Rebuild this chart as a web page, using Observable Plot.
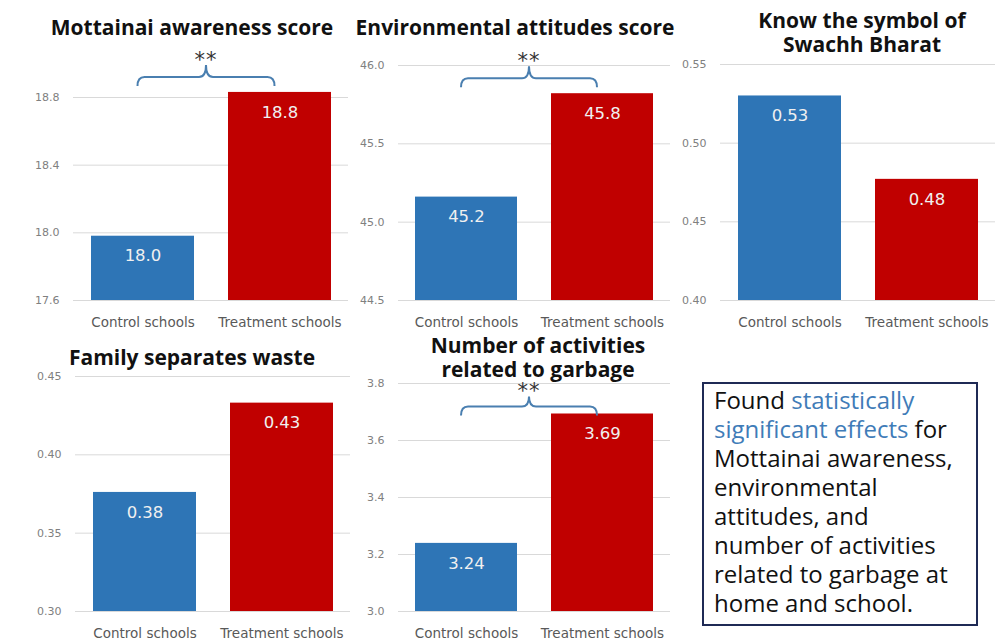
<!DOCTYPE html>
<html>
<head>
<meta charset="utf-8">
<script src="https://cdn.jsdelivr.net/npm/d3@7"></script>
<script src="https://cdn.jsdelivr.net/npm/@observablehq/plot@0.6"></script>
<style>
  html, body { margin: 0; padding: 0; background: #ffffff; }
  #root { position: relative; width: 995px; height: 642px; overflow: hidden; background: #ffffff; }
  .panel { position: absolute; }
  .title { position: absolute; text-align: center; font-family: "Open Sans", sans-serif; font-weight: 700; font-size: 21px; line-height: 24px; color: #111; white-space: nowrap; }
  .note { position: absolute; left: 702px; top: 382px; width: 276px; height: 244px; box-sizing: border-box; border: 2px solid #1f2a55; padding: 1px 0 0 10px; font-family: "Open Sans", sans-serif; font-size: 24px; line-height: 29px; color: #111; white-space: nowrap; }
  .note .hl { color: #3f7cb8; }
</style>
</head>
<body>
<div id="root"></div>
<script>
// ---- data ----
const groups = ["Control schools", "Treatment schools"];

const titles = [
  "Mottainai awareness score",
  "Environmental attitudes score",
  "Know the symbol of<br>Swachh Bharat",
  "Family separates waste",
  "Number of activities<br>related to garbage"
];

const mottainaiValues = [17.98, 18.83];
const environmentalValues = [45.16, 45.82];
const swachhValues = [0.530, 0.477];
const familyValues = [0.376, 0.433];
const activitiesValues = [3.239, 3.693];

const mottainaiTicks = [17.6, 18.0, 18.4, 18.8];
const environmentalTicks = [44.5, 45.0, 45.5, 46.0];
const swachhTicks = [0.40, 0.45, 0.50, 0.55];
const familyTicks = [0.30, 0.35, 0.40, 0.45];
const activitiesTicks = [3.0, 3.2, 3.4, 3.6, 3.8];

const significant = [true, true, false, false, true];
const significanceLabel = "**";

const noteLines = [
  'Found <span class="hl">statistically</span>',
  '<span class="hl">significant effects</span> for',
  'Mottainai awareness,',
  'environmental',
  'attitudes, and',
  'number of activities',
  'related to garbage at',
  'home and school.'
];

const colors = ["#2e75b6", "#c00000"];

// ---- layout ----
const root = document.getElementById("root");

function brace(x1, x2, yb, cusp) {
  const xm = (x1 + x2) / 2, yh = yb - 9, yc = yh - cusp, r = 7;
  return `M${x1},${yb} Q${x1},${yh} ${x1 + r},${yh} L${xm - r},${yh} Q${xm},${yh} ${xm},${yc} Q${xm},${yh} ${xm + r},${yh} L${x2 - r},${yh} Q${x2},${yh} ${x2},${yb}`;
}

function panel(cfg) {
  const data = groups.map((g, i) => ({group: g, value: cfg.values[i], base: cfg.ticks[0]}));
  const lo = cfg.ticks[0], hi = cfg.ticks[cfg.ticks.length - 1];
  const fmt = d3.format(cfg.fmt);
  const tickFmt = d3.format(cfg.tickFmt);
  const marks = [
    Plot.gridY(cfg.ticks, {stroke: "#d9d9d9", strokeOpacity: 1, strokeWidth: 1}),
    Plot.axisY(cfg.ticks, {tickSize: 0, tickPadding: 14, tickFormat: tickFmt, fontSize: 11, color: "#808080", label: null}),
    Plot.axisX({tickSize: 0, tickPadding: 17, fontSize: 13.5, color: "#595959", label: null}),
    Plot.barY(data, {x: "group", y1: "base", y2: "value", fill: "group"}),
    Plot.text(data, {x: "group", y: "value", text: d => fmt(d.value), dy: 20, fill: "#f0f0f0", fontSize: 16.5})
  ];
  if (cfg.sig) {
    marks.push((index, scales) => {
      const g = d3.create("svg:g");
      const bw = scales.x.bandwidth ? scales.x.bandwidth() / 2 : 0;
      const x1 = scales.x(groups[0]) + bw - 5;
      const x2 = scales.x(groups[1]) + bw - 5;
      const yb = scales.y(d3.max(cfg.values)) + cfg.braceOffset;
      g.append("path").attr("d", brace(x1, x2, yb, cfg.cusp)).attr("fill", "none")
        .attr("stroke", "#4a7fb0").attr("stroke-width", 2);
      g.append("text").attr("x", (x1 + x2) / 2).attr("y", yb - 9 - cfg.cusp + 2)
        .attr("text-anchor", "middle").attr("font-size", 21).attr("fill", "#333")
        .attr("letter-spacing", 1)
        .attr("font-family", "DejaVu Sans, sans-serif").text(significanceLabel);
      return g.node();
    });
  }
  const chart = Plot.plot({
    width: cfg.width,
    height: cfg.height,
    marginTop: cfg.mt,
    marginBottom: cfg.mb,
    marginLeft: cfg.ml,
    marginRight: cfg.mr,
    style: {fontFamily: "DejaVu Sans, sans-serif", background: "transparent", overflow: "visible"},
    x: {domain: groups, paddingInner: 0.25, paddingOuter: 0.125, axis: null},
    y: {domain: [lo, hi], axis: null},
    color: {domain: groups, range: colors},
    marks
  });
  const wrap = document.createElement("div");
  wrap.className = "panel";
  wrap.style.left = cfg.left + "px";
  wrap.style.top = cfg.top + "px";
  wrap.appendChild(chart);
  root.appendChild(wrap);

  const t = document.createElement("div");
  t.className = "title";
  t.innerHTML = cfg.title;
  t.style.left = (cfg.titleX - 200) + "px";
  t.style.width = "400px";
  t.style.top = cfg.titleY + "px";
  root.appendChild(t);
}

panel({left: 0, top: 0, width: 350, height: 340, mt: 97, mb: 40, ml: 73, mr: 2,
  values: mottainaiValues, ticks: mottainaiTicks, fmt: ".1f", tickFmt: ".1f",
  sig: significant[0], braceOffset: -6, cusp: 12, title: titles[0], titleX: 192, titleY: 15});
panel({left: 340, top: 0, width: 332, height: 340, mt: 65, mb: 40, ml: 58, mr: 2,
  values: environmentalValues, ticks: environmentalTicks, fmt: ".1f", tickFmt: ".1f",
  sig: significant[1], braceOffset: -6, cusp: 12, title: titles[1], titleX: 515, titleY: 15});
panel({left: 665, top: 0, width: 330, height: 340, mt: 64, mb: 40, ml: 55, mr: 0,
  values: swachhValues, ticks: swachhTicks, fmt: ".2f", tickFmt: ".2f",
  sig: significant[2], braceOffset: -6, cusp: 12, title: titles[2], titleX: 862, titleY: 8});
panel({left: 0, top: 340, width: 352, height: 302, mt: 36, mb: 31, ml: 75, mr: 2,
  values: familyValues, ticks: familyTicks, fmt: ".2f", tickFmt: ".2f",
  sig: significant[3], braceOffset: -6, cusp: 12, title: titles[3], titleX: 192, titleY: 345});
panel({left: 340, top: 340, width: 332, height: 302, mt: 43, mb: 31, ml: 58, mr: 2,
  values: activitiesValues, ticks: activitiesTicks, fmt: ".2f", tickFmt: ".1f",
  sig: significant[4], braceOffset: 2, cusp: 10, title: titles[4], titleX: 538, titleY: 333});

const note = document.createElement("div");
note.className = "note";
note.innerHTML = noteLines.join("<br>");
root.appendChild(note);
</script>
</body>
</html>
